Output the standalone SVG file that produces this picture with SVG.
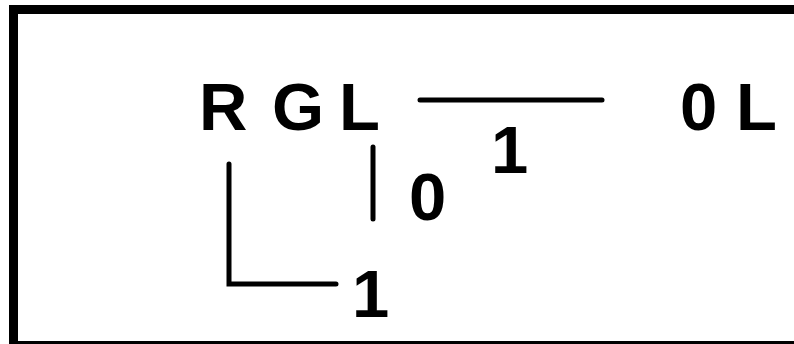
<svg xmlns="http://www.w3.org/2000/svg" width="794" height="344" viewBox="0 0 794 344">
<style>
.t{font-family:"Liberation Sans",Arial,sans-serif;font-weight:bold;font-size:67px;fill:#000}
.c{stroke:#000;stroke-width:5;stroke-linecap:round;fill:none}
</style>
<rect x="0" y="0" width="794" height="344" fill="#fff"/>
<rect x="13.5" y="9.5" width="820" height="336" fill="none" stroke="#000" stroke-width="9"/>
<g id="node-rgl">
<text class="t" x="199" y="130">R</text>
<text class="t" x="272" y="130">G</text>
<text class="t" x="339" y="130">L</text>
</g>
<g id="node-0l">
<text class="t" x="680" y="130">0</text>
<text class="t" x="736" y="130">L</text>
</g>
<g id="connectors">
<line class="c" x1="420" y1="100" x2="602" y2="100"/>
<line class="c" x1="373" y1="147" x2="373" y2="219"/>
<polyline class="c" points="229,164 229,284 336,284"/>
</g>
<g id="labels">
<text class="t" x="491" y="173">1</text>
<text class="t" x="409" y="220">0</text>
<text class="t" x="352" y="317">1</text>
</g>
</svg>
